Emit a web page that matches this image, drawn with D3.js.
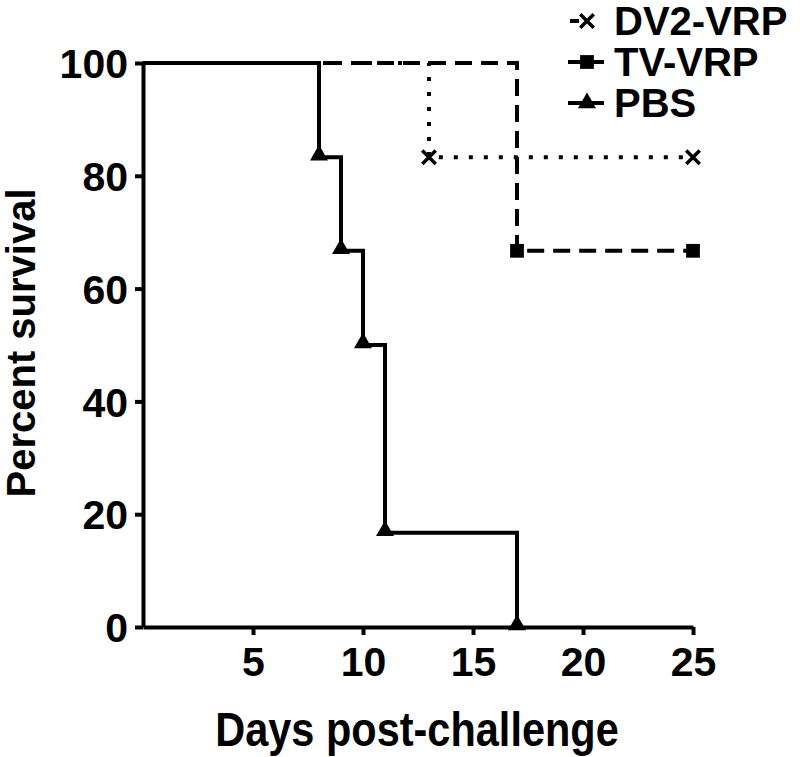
<!DOCTYPE html>
<html>
<head>
<meta charset="utf-8">
<script src="https://cdn.jsdelivr.net/npm/d3@7"></script>
<style>
  body { margin: 0; background: #fff; }
  text { font-family: "Liberation Sans", Arial, sans-serif; font-weight: bold; fill: #000; }
</style>
</head>
<body>
<svg id="chart" width="800" height="757"></svg>
<script>
// Kaplan-Meier steps
const pbsDays = [0, 8, 9, 10, 11, 17];
const pbsSurv = [100, 83.3, 66.7, 50, 16.7, 0];
const tvDays = [0, 17, 25];
const tvSurv = [100, 66.7, 66.7];
const dvDays = [0, 13, 25];
const dvSurv = [100, 83.3, 83.3];

const xTicks = [5, 10, 15, 20, 25];
const yTicks = [0, 20, 40, 60, 80, 100];
const seriesNames = ["DV2-VRP", "TV-VRP", "PBS"];

const svg = d3.select("#chart");

const x = d3.scaleLinear().domain([0, 25]).range([143, 693]);
const y = d3.scaleLinear().domain([0, 100]).range([627, 63]);

const toPts = (days, surv) => days.map((d, i) => ({ day: d, surv: surv[i] }));

const series = [
  { name: "PBS", pts: toPts(pbsDays, pbsSurv), dash: null, symbol: d3.symbolTriangle },
  { name: "TV-VRP", pts: toPts(tvDays, tvSurv), dash: "17,9", symbol: d3.symbolSquare },
  { name: "DV2-VRP", pts: toPts(dvDays, dvSurv), dash: "4,11", symbol: d3.symbolX }
];
// every point after the start gets a marker
series.forEach((s) => (s.marks = s.pts.slice(1)));

const line = d3
  .line()
  .x((d) => x(d.day))
  .y((d) => y(d.surv))
  .curve(d3.curveStepAfter);

// lines
svg
  .append("g")
  .selectAll("path")
  .data(series)
  .join("path")
  .attr("d", (d) => line(d.pts))
  .attr("fill", "none")
  .attr("stroke", "#000")
  .attr("stroke-width", 4)
  .attr("stroke-dasharray", (d) => d.dash);

// markers
const symbolSize = { PBS: 140, "TV-VRP": 190, "DV2-VRP": 120 };
series.forEach((s) => {
  svg
    .append("g")
    .selectAll("path")
    .data(s.marks)
    .join("path")
    .attr("transform", (d) => `translate(${x(d.day)},${y(d.surv) + (s.name === "PBS" ? -2 : 0)})`)
    .attr("d", d3.symbol().type(s.symbol).size(symbolSize[s.name]))
    .attr("fill", "#000")
    .attr("stroke", "#000")
    .attr("stroke-width", s.symbol === d3.symbolX ? 3.5 : 0);
});

// axes
const xAxis = svg
  .append("g")
  .attr("transform", "translate(0,627)")
  .call(d3.axisBottom(x).tickValues(xTicks).tickSize(8).tickSizeOuter(0).tickPadding(12));

const yAxis = svg
  .append("g")
  .attr("transform", "translate(143,0)")
  .call(d3.axisLeft(y).tickValues(yTicks).tickSize(8).tickSizeOuter(0).tickPadding(7));

[xAxis, yAxis].forEach((ax) => {
  ax.select(".domain").attr("stroke", "#000").attr("stroke-width", 4);
  ax.selectAll(".tick line").attr("stroke", "#000").attr("stroke-width", 4);
  ax.selectAll(".tick text")
    .attr("font-size", 41)
    .attr("font-family", "Liberation Sans, Arial, sans-serif")
    .attr("font-weight", "bold")
    .attr("fill", "#000");
});
yAxis.selectAll(".tick text").attr("dy", "0.36em");

// axis titles (the original lettering is a little taller than wide)
svg
  .append("text")
  .attr("transform", "translate(417,746) scale(1,1.15)")
  .attr("text-anchor", "middle")
  .attr("font-size", 41.5)
  .text("Days post-challenge");

svg
  .append("text")
  .attr("transform", "translate(35,343) rotate(-90)")
  .attr("text-anchor", "middle")
  .attr("font-size", 40)
  .text("Percent survival");

// legend
const legendY = [21, 62, 103];
const legendSeries = seriesNames.map((n) => series.find((s) => s.name === n));
const legend = svg
  .append("g")
  .selectAll("g")
  .data(legendSeries)
  .join("g")
  .attr("transform", (d, i) => `translate(568,${legendY[i]})`);

// DV2 sample is just a short dash before the cross
legend
  .append("line")
  .attr("x1", (d) => (d.name === "DV2-VRP" ? 2 : 0))
  .attr("x2", (d) => (d.name === "DV2-VRP" ? 11 : 36))
  .attr("stroke", "#000")
  .attr("stroke-width", 4);

legend
  .append("path")
  .attr("transform", "translate(19,0)")
  .attr("d", (d) => d3.symbol().type(d.symbol).size(symbolSize[d.name])())
  .attr("fill", "#000")
  .attr("stroke", "#000")
  .attr("stroke-width", (d) => (d.symbol === d3.symbolX ? 3.5 : 0));

legend
  .append("text")
  .attr("x", 46)
  .attr("dy", "0.35em")
  .attr("font-size", 40)
  .text((d) => d.name);
</script>
</body>
</html>
